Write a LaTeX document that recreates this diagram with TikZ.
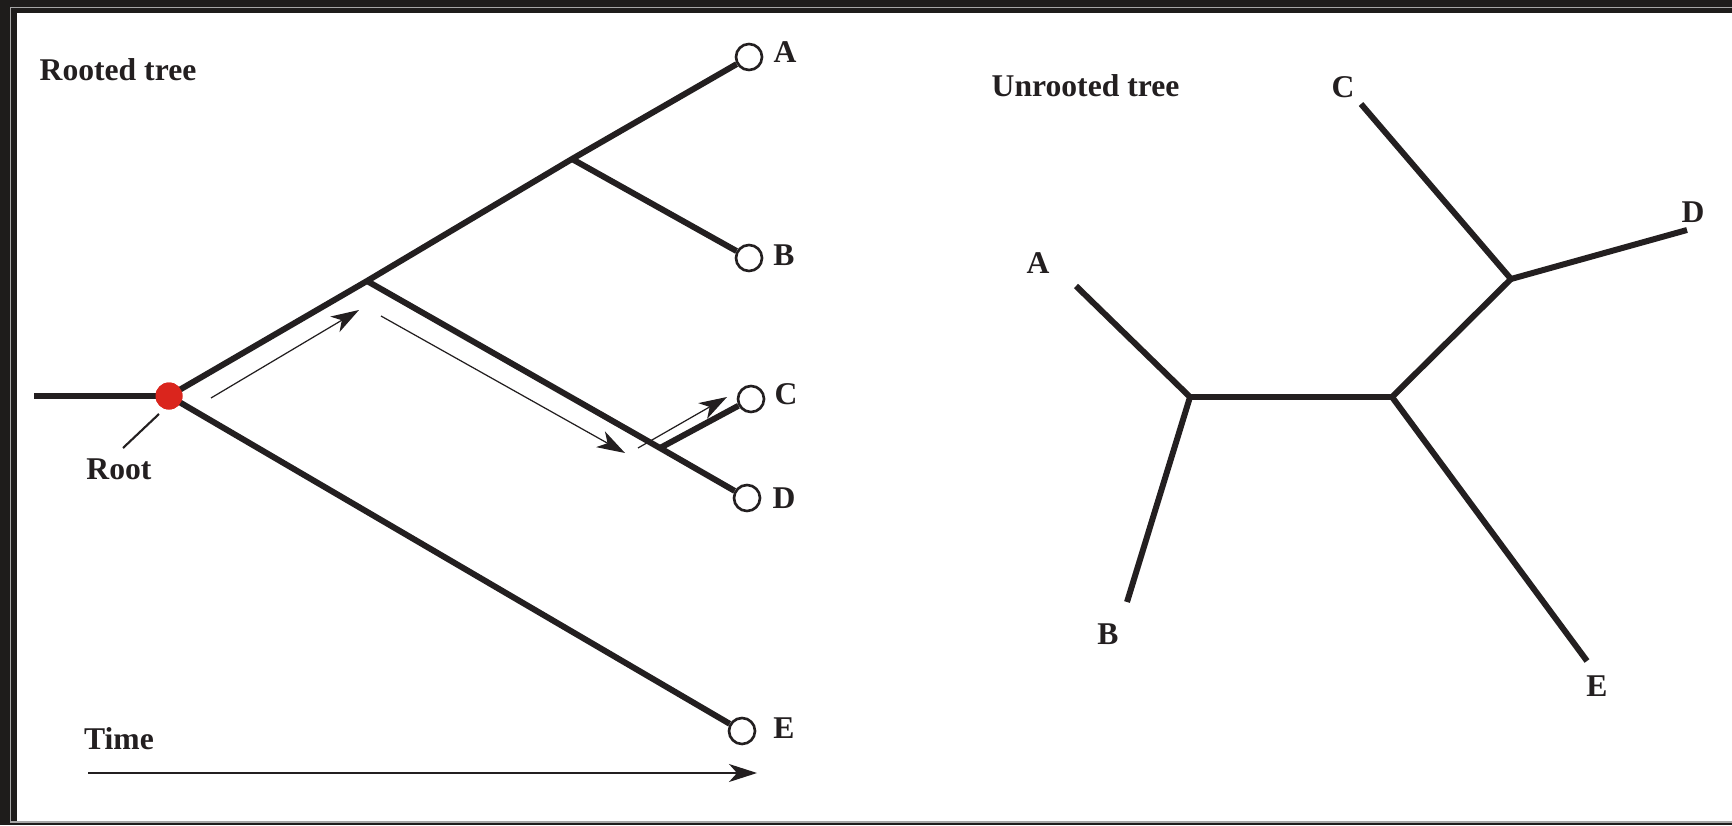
\documentclass[tikz,border=0pt]{standalone}
\usepackage{fontspec}
\setmainfont{Liberation Serif}
\usetikzlibrary{arrows.meta}

\definecolor{ink}{HTML}{231F20}
\definecolor{rootred}{HTML}{DA251D}
\definecolor{frame}{HTML}{1E1C1B}

\begin{document}
\begin{tikzpicture}[
    branch/.style={ink, line width=1.7pt},
    leaf/.style={
        circle,
        draw=ink,
        line width=0.75pt,
        fill=white,
        minimum size=0.26cm,
        inner sep=0pt
    },
    lbl/.style={ink, font=\bfseries\fontsize{9}{11}\selectfont, inner sep=0pt},
    flow/.style={ink, line width=0.35pt, -{Stealth[length=2.8mm, width=1.8mm, inset=0.8mm]}}
]

% Frame
\useasboundingbox (0,0) rectangle (17.32,8.25);
\clip (0,0) rectangle (17.32,8.25);
\fill[frame] (0,0) rectangle (17.32,8.25);
\draw[gray!70, line width=0.5pt] (0.105,0.03) rectangle (17.6,8.175);
\fill[white] (0.17,0.04) rectangle (17.6,8.12);

% Rooted tree
\node[lbl, anchor=west] (rtitle) at (0.39, 7.55) {Rooted tree};

\coordinate (stem) at (0.34, 4.29);
\node[circle, fill=rootred, minimum size=0.27cm, inner sep=0pt] (root) at (1.69, 4.29) {};
\coordinate (nABCD) at (3.67, 5.44);
\coordinate (nAB) at (5.72, 6.66);
\coordinate (nCD) at (6.60, 3.77);

\node[leaf] (A) at (7.49, 7.68) {};
\node[leaf] (B) at (7.49, 5.67) {};
\node[leaf] (C) at (7.51, 4.26) {};
\node[leaf] (D) at (7.47, 3.27) {};
\node[leaf] (E) at (7.42, 0.94) {};

\node[lbl] (lA) at (7.85, 7.73) {A};
\node[lbl] (lB) at (7.84, 5.70) {B};
\node[lbl] (lC) at (7.86, 4.31) {C};
\node[lbl] (lD) at (7.84, 3.27) {D};
\node[lbl] (lE) at (7.84, 0.97) {E};

\draw[branch] (stem) -- (root.center);
\draw[branch] (root.center) -- (nABCD) -- (nAB) -- (A);
\draw[branch] (nAB) -- (B);
\draw[branch] (nABCD) -- (nCD) -- (D);
\draw[branch] (nCD) -- (C);
\draw[branch] (root.center) -- (E);
\node[circle, fill=rootred, minimum size=0.27cm, inner sep=0pt] at (root) {};

% Root label
\node[lbl] (rootlbl) at (1.19, 3.56) {Root};
\coordinate (p0) at (1.59, 4.11);
\coordinate (p1) at (1.23, 3.77);
\draw[ink, line width=0.6pt] (p0) -- (p1);

% Path along the tree
\coordinate (a1s) at (2.11, 4.27);
\coordinate (a1e) at (3.59, 5.15);
\coordinate (a2s) at (3.81, 5.09);
\coordinate (a2e) at (6.25, 3.72);
\coordinate (a3s) at (6.38, 3.77);
\coordinate (a3e) at (7.27, 4.28);
\draw[flow] (a1s) -- (a1e);
\draw[flow] (a2s) -- (a2e);
\draw[flow] (a3s) -- (a3e);

% Time axis
\node[lbl] (time) at (1.19, 0.86) {Time};
\coordinate (t0) at (0.88, 0.52);
\coordinate (t1) at (7.57, 0.52);
\draw[flow] (t0) -- (t1);

% Unrooted tree
\node[lbl, anchor=west] (utitle) at (9.91, 7.39) {Unrooted tree};

\coordinate (L) at (11.90, 4.28);
\coordinate (R) at (13.92, 4.28);
\coordinate (U) at (15.11, 5.46);
\coordinate (uA) at (10.76, 5.39);
\coordinate (uB) at (11.27, 2.23);
\coordinate (uC) at (13.61, 7.21);
\coordinate (uD) at (16.87, 5.95);
\coordinate (uE) at (15.87, 1.64);

\draw[branch] (uA) -- (L);
\draw[branch] (uB) -- (L);
\draw[branch] (L) -- (R);
\draw[branch] (uE) -- (R);
\draw[branch] (R) -- (U);
\draw[branch] (uC) -- (U);
\draw[branch] (uD) -- (U);

\node[lbl] (ulA) at (10.38, 5.62) {A};
\node[lbl] (ulB) at (11.08, 1.91) {B};
\node[lbl] (ulC) at (13.43, 7.38) {C};
\node[lbl] (ulD) at (16.93, 6.13) {D};
\node[lbl] (ulE) at (15.97, 1.39) {E};

\end{tikzpicture}
\end{document}
